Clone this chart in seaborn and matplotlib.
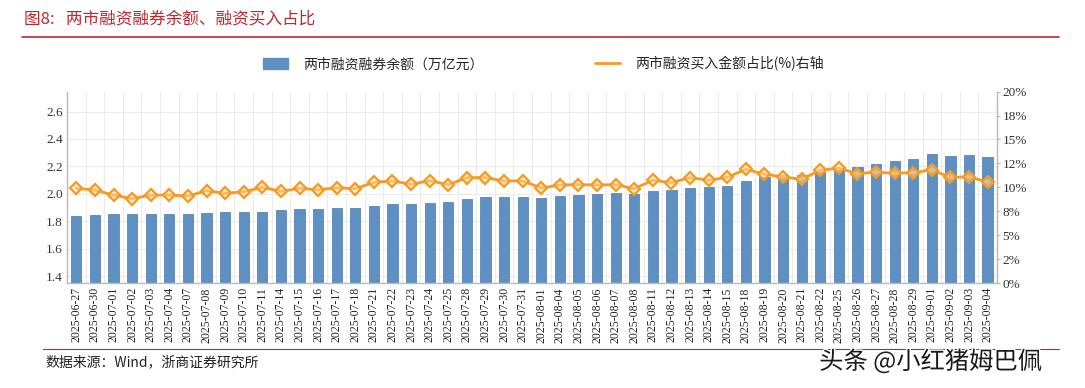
import matplotlib
matplotlib.use("Agg")
import matplotlib.pyplot as plt
import matplotlib.patheffects as pe
from matplotlib.lines import Line2D
from matplotlib.patches import Patch
import seaborn as sns
import numpy as np
import pandas as pd

# 数据
dates = ["2025-06-27", "2025-06-30", "2025-07-01", "2025-07-02", "2025-07-03", "2025-07-04",
         "2025-07-07", "2025-07-08", "2025-07-09", "2025-07-10", "2025-07-11", "2025-07-14",
         "2025-07-15", "2025-07-16", "2025-07-17", "2025-07-18", "2025-07-21", "2025-07-22",
         "2025-07-23", "2025-07-24", "2025-07-25", "2025-07-28", "2025-07-29", "2025-07-30",
         "2025-07-31", "2025-08-01", "2025-08-04", "2025-08-05", "2025-08-06", "2025-08-07",
         "2025-08-08", "2025-08-11", "2025-08-12", "2025-08-13", "2025-08-14", "2025-08-15",
         "2025-08-18", "2025-08-19", "2025-08-20", "2025-08-21", "2025-08-22", "2025-08-25",
         "2025-08-26", "2025-08-27", "2025-08-28", "2025-08-29", "2025-09-01", "2025-09-02",
         "2025-09-03", "2025-09-04"]

balance = [1.836, 1.848, 1.850, 1.852, 1.855, 1.850, 1.855, 1.860, 1.864, 1.869,
           1.871, 1.881, 1.888, 1.893, 1.900, 1.898, 1.912, 1.926, 1.929, 1.933,
           1.940, 1.960, 1.974, 1.976, 1.976, 1.971, 1.983, 1.993, 2.002, 2.005,
           2.000, 2.019, 2.026, 2.040, 2.048, 2.055, 2.095, 2.126, 2.138, 2.140,
           2.157, 2.176, 2.198, 2.219, 2.236, 2.252, 2.288, 2.279, 2.281, 2.271]

buy_ratio = [9.89, 9.72, 9.19, 8.81, 9.19, 9.19, 9.09, 9.65, 9.37, 9.54,
             10.00, 9.58, 9.89, 9.75, 9.96, 9.86, 10.52, 10.67, 10.32, 10.70,
             10.28, 11.02, 11.02, 10.67, 10.67, 9.93, 10.25, 10.28, 10.25, 10.28,
             9.86, 10.74, 10.49, 11.02, 10.74, 11.05, 11.89, 11.37, 11.09, 10.84,
             11.79, 12.00, 11.44, 11.58, 11.47, 11.54, 11.82, 11.05, 11.09, 10.56]

bar_label = "两市融资融券余额（万亿元）"
line_label = "两市融资买入金额占比(%)右轴"

df = pd.DataFrame({"date": dates, "balance": balance, "ratio": buy_ratio})
df["pos"] = np.arange(len(df))

sns.set_style("white")
plt.rcParams['font.family'] = ['Noto Sans CJK SC', 'DejaVu Sans']

bar_color = "#5e90c4"
line_color = "#f59a23"
red = "#c0272d"
serif = "Liberation Serif"

fig = plt.figure(figsize=(10.85, 3.88), dpi=100)
ax = fig.add_axes([0.0618, 0.2706, 0.857, 0.4932])

sns.barplot(data=df, x="date", y="balance", color=bar_color, width=0.55,
            edgecolor="#4f79a6", linewidth=0.5, saturation=1, ax=ax)
ax.set_ylim(1.35, 2.745)
ax.set_yticks(np.arange(1.4, 2.61, 0.2))
ax.set_yticklabels([f"{v:.1f}" for v in np.arange(1.4, 2.61, 0.2)],
                   fontfamily=serif, fontsize=9.5, color="#333333")
ax.set_xlim(-0.5, len(dates) - 0.5)
ax.set_xticks(df["pos"])
ax.set_xticklabels(dates, rotation=90, fontfamily=serif, fontsize=8.5, color="#222222")
ax.set_xticks(df["pos"][:-1] + 0.5, minor=True)
ax.grid(axis="y", color="#ececec", linewidth=0.8)
ax.grid(axis="x", which="minor", color="#ececec", linewidth=0.8)
ax.set_axisbelow(True)
ax.tick_params(axis="both", which="both", length=0, pad=3)
ax.set_xlabel("")
ax.set_ylabel("")
ax.spines["top"].set_visible(False)
for s in ["left", "right", "bottom"]:
    ax.spines[s].set_color("#bbbbbb")
    ax.spines[s].set_linewidth(1)

ax2 = ax.twinx()
sns.lineplot(data=df, x="pos", y="ratio", color=line_color, linewidth=2,
             marker="D", markersize=6.5, markerfacecolor=(1.0, 0.85, 0.6, 0.55),
             markeredgecolor=line_color, markeredgewidth=1.6, ax=ax2)
ax2.set_ylim(0, 20)
rt = np.arange(0, 20.1, 2.5)
ax2.set_yticks(rt)
ax2.set_yticklabels(["{:.0f}%".format(v) for v in rt], fontfamily=serif,
                    fontsize=9.5, color="#333333")
ax2.tick_params(axis="y", length=2, color="#bbbbbb", pad=2)
ax2.set_ylabel("")
ax2.set_xlabel("")
ax2.set_xlim(-0.5, len(dates) - 0.5)
for s in ["top", "left", "bottom"]:
    ax2.spines[s].set_visible(False)
ax2.spines["right"].set_color("#bbbbbb")

# 图例
handles = [Patch(facecolor=bar_color, edgecolor=bar_color),
           Line2D([0], [0], color=line_color, linewidth=2)]
fig.legend(handles, [bar_label, line_label], loc="center", bbox_to_anchor=(0.501, 0.835),
           ncol=2, frameon=False, fontsize=10, columnspacing=8.0, handlelength=1.8,
           handleheight=0.8, handletextpad=1.1)

# 标题与来源
fig.text(0.022, 0.952, "图8:   两市融资融券余额、融资买入占比", color=red, fontsize=12,
         ha="left", va="center")
fig.add_artist(Line2D([0.02, 0.976], [0.905, 0.905], color=red, linewidth=1.2))
fig.add_artist(Line2D([0.04, 0.976], [0.1, 0.1], color=red, linewidth=0.8))
fig.text(0.042, 0.067, "数据来源：Wind，浙商证券研究所", color="#222222", fontsize=10,
         ha="left", va="center")
fig.text(0.755, 0.067, "头条 @小红猪姆巴佩", color="#1a1a1a", fontsize=17.5,
         ha="left", va="center",
         path_effects=[pe.withStroke(linewidth=2, foreground="white")])

fig.savefig("out.png", dpi=100)
